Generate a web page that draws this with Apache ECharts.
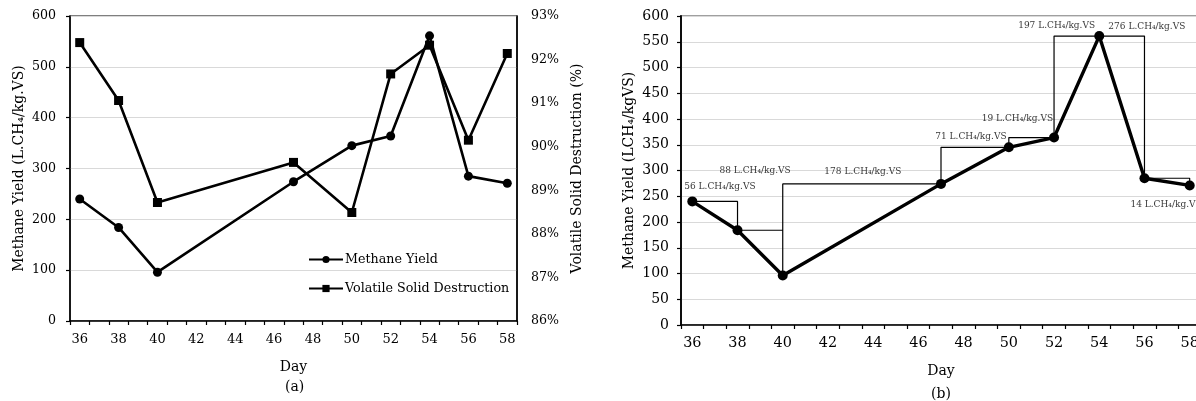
<!DOCTYPE html>
<html>
<head>
<meta charset="utf-8">
<script src="https://cdn.jsdelivr.net/npm/echarts@6/dist/echarts.min.js"></script>
<style>
  html, body { margin: 0; padding: 0; background: #fff; overflow: hidden; }
  /* panel (b) runs past the right edge of the picture, so the canvas is a bit wider than the window */
  #main { width: 1212px; height: 401px; }
</style>
</head>
<body>
<div id="main"></div>
<script>
// category labels on the x axis (one band per day)
var dayLabels = [];
for (var d = 36; d <= 58; d++) dayLabels.push(String(d));

// sampled days and values
var sampleDays = [36, 38, 40, 47, 50, 52, 54, 56, 58];
var methaneYield = [240, 184, 96, 274, 345, 364, 561, 285, 271];      // L.CH4/kg.VS
var vsDestruction = [92.39, 91.06, 88.72, 89.64, 88.49, 91.67, 92.33, 90.15, 92.14]; // %
// yield change between consecutive samples, as printed on panel (b)
var gainLabels = [56, 88, 178, 71, 19, 197, 276, 14];

// pixel nudges for the annotation texts (style only)
var gainLabelOffsets = [[5, -15], [-5, -60], [1, -12], [-4, -11], [-14, -19], [-20, -10], [25, -9], [-1, 26]];

var FONT = "DejaVu Serif";
var INK = "#000";
var GRIDLINE = "#d9d9d9";

function pairs(xs, ys) {
  return xs.map(function (x, i) { return [x, ys[i]]; });
}

// bracket path: horizontal at the higher level, vertical at the lower point
var bracketPath = [];
var gainPoints = [];
for (var i = 0; i < sampleDays.length - 1; i++) {
  var a = sampleDays[i], b = sampleDays[i + 1];
  var va = methaneYield[i], vb = methaneYield[i + 1];
  if (va >= vb) {
    bracketPath.push([a, va], [b, va], [b, vb]);
  } else {
    bracketPath.push([a, va], [a, vb], [b, vb]);
  }
  gainPoints.push({
    value: [(a + b) / 2, Math.max(va, vb)],
    label: {
      offset: gainLabelOffsets[i],
      formatter: gainLabels[i] + " L.CH\u2084/kg.VS"
    }
  });
}

function dayAxis(gridIndex, fontSize, margin, nameGap) {
  return {
    type: "category",
    gridIndex: gridIndex,
    data: dayLabels,
    boundaryGap: true,
    name: "Day",
    nameLocation: "middle",
    nameGap: nameGap,
    nameTextStyle: { fontFamily: FONT, fontSize: 14, color: INK },
    axisLine: { onZero: false, lineStyle: { color: INK, width: 1.5 } },
    axisTick: { show: true, interval: 0, length: 4, lineStyle: { color: INK, width: 1.2 } },
    axisLabel: { interval: 1, fontFamily: FONT, fontSize: fontSize, color: INK, margin: margin },
    splitLine: { show: false }
  };
}

function hiddenDayScale(gridIndex) {
  return { type: "value", gridIndex: gridIndex, min: 35.5, max: 58.5, show: false,
           axisLine: { onZero: false }, splitLine: { show: false } };
}

var option = {
  animation: false,
  backgroundColor: "#fff",
  textStyle: { fontFamily: FONT },
  grid: [
    { left: 70, top: 16, width: 447, height: 305, show: true, borderColor: INK, borderWidth: 1.2 },
    { left: 681, top: 16, width: 520, height: 309, show: true, borderColor: "#404040", borderWidth: 1.2 }
  ],
  legend: {
    orient: "vertical",
    left: 303,
    top: 248,
    itemWidth: 34,
    itemHeight: 9,
    itemGap: 16,
    data: ["Methane Yield", "Volatile Solid Destruction"],
    textStyle: { fontFamily: FONT, fontSize: 12.7, color: INK, padding: [0, 0, 0, -3] }
  },
  xAxis: [
    dayAxis(0, 13, 12, 39),
    hiddenDayScale(0),
    dayAxis(1, 14.4, 11, 39),
    hiddenDayScale(1)
  ],
  yAxis: [
    {
      type: "value", gridIndex: 0, min: 0, max: 600, interval: 100,
      name: "Methane Yield (L.CH\u2084/kg.VS)", nameLocation: "middle", nameRotate: 90, nameGap: 44,
      nameTextStyle: { fontFamily: FONT, fontSize: 14, color: INK },
      axisLine: { show: true, onZero: false, lineStyle: { color: INK, width: 1.5 } },
      axisTick: { show: true, length: 4, lineStyle: { color: INK, width: 1.2 } },
      axisLabel: { fontFamily: FONT, fontSize: 12.6, color: INK, margin: 14 },
      splitLine: { show: true, lineStyle: { color: GRIDLINE, width: 1.2 } }
    },
    {
      type: "value", gridIndex: 0, position: "right", min: 86, max: 93, interval: 1,
      name: "Volatile Solid Destruction (%)", nameLocation: "middle", nameRotate: 90, nameGap: 53,
      nameTextStyle: { fontFamily: FONT, fontSize: 14, color: INK },
      axisLine: { show: true, onZero: false, lineStyle: { color: INK, width: 1.5 } },
      axisTick: { show: false },
      axisLabel: { fontFamily: FONT, fontSize: 12.6, color: INK, margin: 14, formatter: "{value}%" },
      splitLine: { show: false }
    },
    {
      type: "value", gridIndex: 1, min: 0, max: 600, interval: 50,
      name: "Methane Yield (LCH\u2084/kgVS)", nameLocation: "middle", nameRotate: 90, nameGap: 45,
      nameTextStyle: { fontFamily: FONT, fontSize: 14, color: INK },
      axisLine: { show: true, onZero: false, lineStyle: { color: INK, width: 1.8 } },
      axisTick: { show: true, length: 4, lineStyle: { color: INK, width: 1.2 } },
      axisLabel: { fontFamily: FONT, fontSize: 14, color: INK, margin: 12 },
      splitLine: { show: true, lineStyle: { color: GRIDLINE, width: 1.2 } }
    }
  ],
  series: [
    {
      name: "Methane Yield", type: "line", xAxisIndex: 1, yAxisIndex: 0,
      data: pairs(sampleDays, methaneYield),
      symbol: "circle", symbolSize: 9,
      lineStyle: { color: INK, width: 2.6 }, itemStyle: { color: INK }, z: 3
    },
    {
      name: "Volatile Solid Destruction", type: "line", xAxisIndex: 1, yAxisIndex: 1,
      data: pairs(sampleDays, vsDestruction),
      symbol: "rect", symbolSize: 9,
      lineStyle: { color: INK, width: 2.6 }, itemStyle: { color: INK }, z: 3
    },
    {
      name: "brackets", type: "line", xAxisIndex: 3, yAxisIndex: 2,
      data: bracketPath, showSymbol: false, silent: true,
      lineStyle: { color: INK, width: 1.2 }, z: 2
    },
    {
      name: "Methane Yield (b)", type: "line", xAxisIndex: 3, yAxisIndex: 2,
      data: pairs(sampleDays, methaneYield),
      symbol: "circle", symbolSize: 10,
      lineStyle: { color: INK, width: 3.4 }, itemStyle: { color: INK }, z: 4
    },
    {
      name: "gains", type: "scatter", xAxisIndex: 3, yAxisIndex: 2,
      data: gainPoints, symbolSize: 0, silent: true,
      label: { show: true, position: "inside", fontFamily: FONT, fontSize: 9, color: INK },
      z: 5
    }
  ],
  graphic: [
    { type: "text", left: 285, top: 380, style: { text: "(a)", font: "14px " + FONT, fill: INK } },
    { type: "text", left: 931, top: 387, style: { text: "(b)", font: "14px " + FONT, fill: INK } }
  ]
};

var chart = echarts.init(document.getElementById("main"));
chart.setOption(option);
</script>
</body>
</html>
